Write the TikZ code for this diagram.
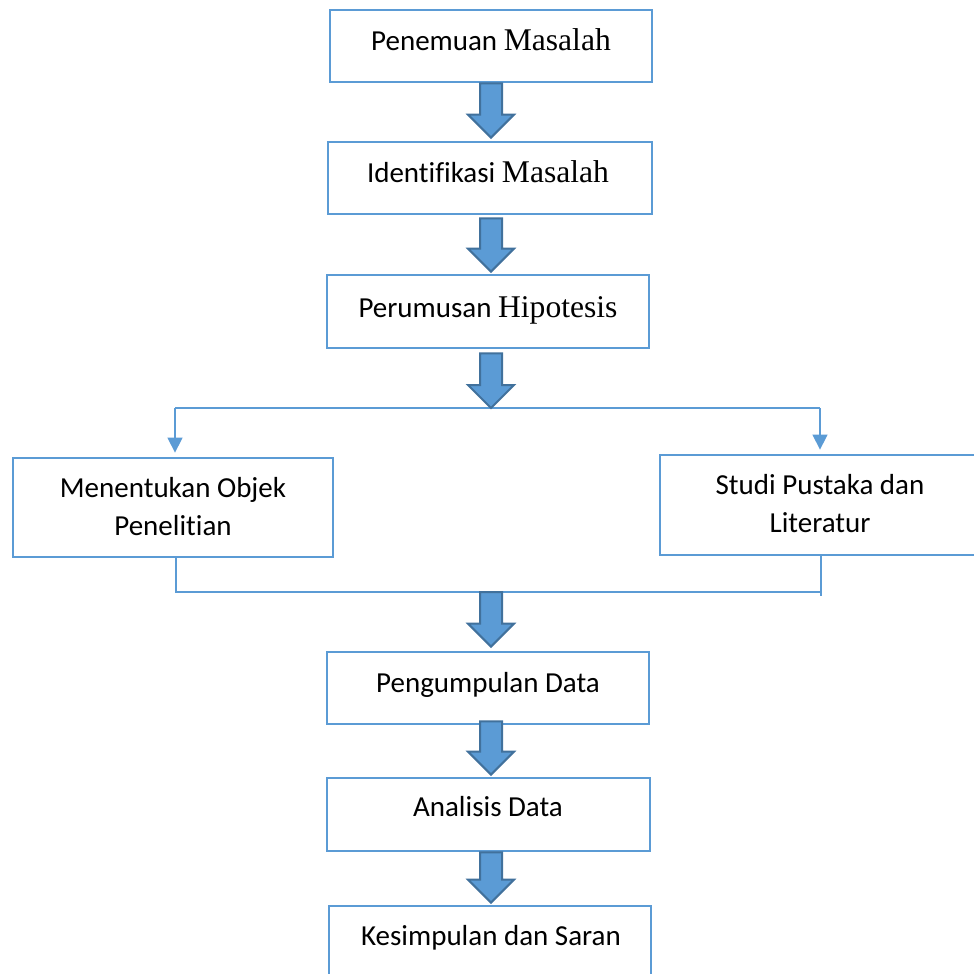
\documentclass[tikz,border=0pt]{standalone}
\usepackage{fontspec}
\setmainfont[Ligatures=NoCommon]{Carlito}
\newfontfamily\tnr{Liberation Serif}
\usetikzlibrary{arrows.meta,calc,fit}
\definecolor{bord}{RGB}{91,155,213}
\definecolor{darkb}{RGB}{65,113,156}
\newcommand\blockarr[2]{\draw[barrow] ($(#1)+(-11,0)$) -- ($(#2)+(-11,-23)$) -- ($(#2)+(-23,-23)$) -- (#2) -- ($(#2)+(23,-23)$) -- ($(#2)+(11,-23)$) -- ($(#1)+(11,0)$) -- cycle;}
\newcommand\serif[1]{{\tnr\fontsize{15.8}{19}\selectfont #1}}
\begin{document}
\begin{tikzpicture}[x=0.5pt,y=-0.5pt,
  box/.style={draw=bord,line width=1.4pt,inner sep=0pt},
  txt/.style={font=\fontsize{14.5}{19}\selectfont,align=center,inner sep=0pt},
  barrow/.style={fill=bord,draw=darkb,line width=1pt,line join=miter},
  thinline/.style={draw=bord,line width=0.7pt},
  thinarr/.style={thinline,-{Triangle[width=7.5pt,length=7.5pt]},shorten >=2pt}]
\clip (0,0) rectangle (974,974);
\fill[white] (0,0) rectangle (974,974);
% box corners
\coordinate (c1a) at (330,10);  \coordinate (c1b) at (652,82);
\coordinate (c2a) at (328,142); \coordinate (c2b) at (652,214);
\coordinate (c3a) at (327,275); \coordinate (c3b) at (649,348);
\coordinate (cla) at (13,458);  \coordinate (clb) at (333,557);
\coordinate (cra) at (660,455); \coordinate (crb) at (995,555);
\coordinate (c7a) at (327,652); \coordinate (c7b) at (649,724);
\coordinate (c8a) at (327,778); \coordinate (c8b) at (650,851);
\coordinate (c9a) at (329,906); \coordinate (c9b) at (651,995);
\node[box,fit=(c1a)(c1b)] (b1) {};
\node[box,fit=(c2a)(c2b)] (b2) {};
\node[box,fit=(c3a)(c3b)] (b3) {};
\node[box,fit=(cla)(clb)] (bl) {};
\node[box,fit=(cra)(crb)] (br) {};
\node[box,fit=(c7a)(c7b)] (b7) {};
\node[box,fit=(c8a)(c8b)] (b8) {};
\node[box,fit=(c9a)(c9b)] (b9) {};
% texts
\node[txt,anchor=base] (t1) at (491,51) {Penemuan \serif{Masalah}};
\node[txt,anchor=base] (t2) at (488,183) {Identifikasi \serif{Masalah}};
\node[txt,anchor=base] (t3) at (488,317) {Perumusan \serif{Hipotesis}};
\node[txt] (tl) at (173,507) {Menentukan Objek\\Penelitian};
\node[txt] (tr) at (820,504) {Studi Pustaka dan\\Literatur};
\node[txt,anchor=base] (t7) at (488,692) {Pengumpulan Data};
\node[txt,anchor=base] (t8) at (488,816) {Analisis Data};
\node[txt,anchor=base] (t9) at (491,945) {Kesimpulan dan Saran};
% arrow axis and split/join points
\coordinate (axis) at (491,0);
\coordinate (split) at (491,408);
\coordinate (sl) at (175,408);
\coordinate (sr) at (820,408);
\coordinate (jl) at (176,592);
\coordinate (jr) at (821,592);
\coordinate (jm) at (491,592);
\coordinate (jre) at (821,596);
\coordinate (a1s) at (b1.south -| axis); \coordinate (a1e) at ($(b2.north -| axis)+(0,-3)$);
\coordinate (a2s) at ($(b2.south -| axis)+(0,3)$); \coordinate (a2e) at ($(b3.north -| axis)+(0,-2)$);
\coordinate (a3s) at ($(b3.south -| axis)+(0,4)$);
\coordinate (a4e) at ($(b7.north -| axis)+(0,-4)$);
\coordinate (a5s) at ($(b7.south -| axis)+(0,-4)$); \coordinate (a5e) at ($(b8.north -| axis)+(0,-2)$);
\coordinate (a6s) at (b8.south -| axis); \coordinate (a6e) at ($(b9.north -| axis)+(0,-2)$);
% thin connectors
\draw[thinline] (sl) -- (sr);
\draw[thinarr] (sl) -- (sl |- bl.north);
\draw[thinarr] (sr) -- (sr |- br.north);
\draw[thinline] (bl.south -| jl) -- (jl) -- (jr);
\draw[thinline] (br.south -| jr) -- (jre);
% block arrows
\blockarr{a1s}{a1e}
\blockarr{a2s}{a2e}
\blockarr{a3s}{split}
\blockarr{jm}{a4e}
\blockarr{a5s}{a5e}
\blockarr{a6s}{a6e}
\end{tikzpicture}
\end{document}
